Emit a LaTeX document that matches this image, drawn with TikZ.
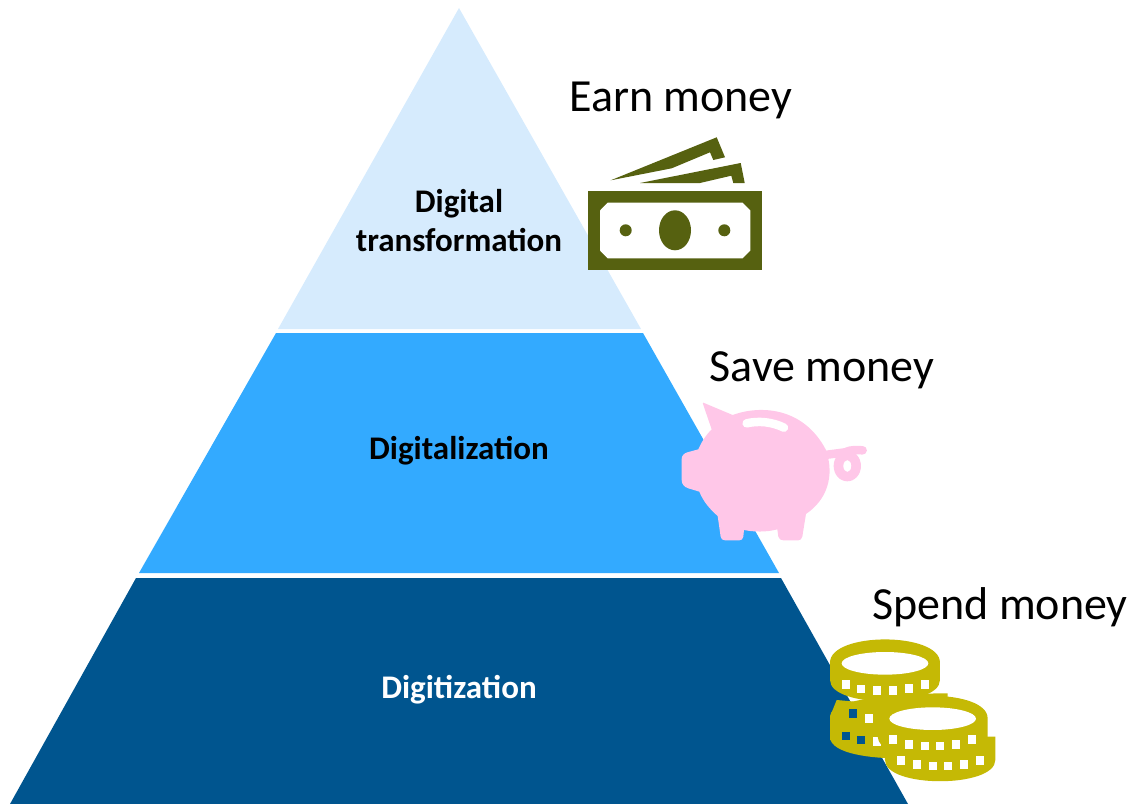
\documentclass[tikz,border=0pt]{standalone}
\usepackage{fontspec}
\setmainfont{Carlito}
\definecolor{toplayer}{HTML}{D6EBFD}
\definecolor{midlayer}{HTML}{33AAFF}
\definecolor{lowlayer}{HTML}{00558F}
\definecolor{billgreen}{HTML}{566110}
\definecolor{pigpink}{HTML}{FFC7E8}
\definecolor{coingold}{HTML}{C5B905}
\tikzset{
  layertext/.style={font=\fontsize{33bp}{39bp}\selectfont\bfseries,align=center,text=black},
  moneytext/.style={font=\fontsize{46bp}{52bp}\selectfont,text=black},
}
\begin{document}
\begin{tikzpicture}[x=1bp,y=-1bp,line join=bevel]
\useasboundingbox (0,0) rectangle (1138,804);
%% pyramid
\fill [toplayer] (459,8) -- (641,329) -- (278,329) -- cycle;
\fill [midlayer] (276,333) -- (643,333) -- (779,573) -- (139,573) -- cycle;
\fill [lowlayer] (136,578) -- (781,578) -- (908,804) -- (10,804) -- cycle;
\node (trans) at (459,221) [layertext] {Digital\\transformation};
\node (digal) at (459,451) [layertext] {Digitalization};
\node (digit) at (459,690) [layertext,text=white] {Digitization};
\node (earn) at (681,100) [moneytext] {Earn money};
\node (save) at (822,370) [moneytext] {Save money};
\node (spend) at (1000,607) [moneytext] {Spend money};
%% bills
\fill [billgreen] (610.7,180.3) -- (716.7,137.3) -- (725,157.3) -- (713.3,160) -- (710,152.3) -- (671.7,168.3) -- cycle;
\fill [billgreen] (640,183) -- (740.7,163) -- (744.7,183) -- (733.3,183) -- (731.3,175.7) -- (700,183) -- cycle;
\fill [billgreen] (588,191) rectangle (762,270);
\fill [white] (607.7,202.7) -- (742.5,202.7) -- (750.3,210.5) -- (750.3,250.5) -- (742.5,258.3) -- (607.7,258.3) -- (600,250.5) -- (600,210.5) -- cycle;
\fill [billgreen] (675,230.3) ellipse [x radius=16,y radius=20];
\fill [billgreen] (625.7,230.3) circle (6);
\fill [billgreen] (724.3,230.3) circle (6);
%% pig
\begin{scope}[shift={(670,390)},x=0.3333bp,y=-0.3333bp]
  \fill [pigpink] (100,38) -- (188,75) .. controls (270,45) and (400,50) .. (468,180)
    .. controls (495,260) and (470,330) .. (408,372) -- (397,440) .. controls (395,448) and (390,451) .. (385,451)
    -- (340,451) .. controls (332,451) and (328,448) .. (325,440) -- (322,418) .. controls (290,427) and (250,426) .. (222,420)
    -- (220,440) .. controls (219,448) and (214,451) .. (208,451) -- (165,451) .. controls (157,451) and (153,447) .. (152,440)
    -- (143,378) .. controls (120,358) and (100,335) .. (88,305) -- (55,295) .. controls (42,291) and (35,282) .. (35,270)
    -- (35,207) .. controls (35,197) and (42,190) .. (52,187) -- (85,178) .. controls (95,155) and (108,135) .. (125,118)
    -- (100,45) .. controls (98,40) and (98,38) .. (100,38) -- cycle;
  \draw [white,line width=8.5bp,line cap=round] (230,100) .. controls (265,92) and (305,95) .. (342,113);
  \draw [pigpink,line width=8.5bp,line cap=round] (465,195) -- (525,187) .. controls (545,178) and (560,180) .. (578,181);
  \fill [pigpink,even odd rule] (532,228) ellipse [x radius=41,y radius=46] (532,228) ellipse [x radius=12,y radius=18];
\end{scope}
%% coins
\begin{scope}[shift={(810,630)},x=0.3333bp,y=-0.3333bp]
  \fill [coingold] (60,260) .. controls (60,190) and (390,190) .. (413,190) -- (413,260)
    .. controls (413,330) and (400,350) .. (60,330) -- cycle;
  \fill [coingold] (60,260) -- (60,320) .. controls (60,375) and (200,385) .. (260,385) -- (300,230) -- (80,210) -- cycle;
  \fill [coingold] (60,98) .. controls (60,5) and (390,5) .. (390,98) -- (390,150)
    .. controls (390,235) and (60,235) .. (60,150) -- cycle;
  \fill [white] (225,100) ellipse [x radius=130,y radius=34];
  \foreach \x/\y in {107/163,153/177,202/181,249/181,297/176,345/163}
    \fill [white] (\x-12,\y-13) rectangle (\x+12,\y+13);
  \foreach \x/\y in {130/250,107/318,153/330}
    \fill [lowlayer] (\x-12,\y-13) rectangle (\x+12,\y+13);
  \foreach \x/\y in {178/265,200/335}
    \fill [white] (\x-12,\y-13) rectangle (\x+12,\y+13);
  \fill [coingold] (225,320) -- (556,320) -- (556,390) .. controls (556,475) and (225,475) .. (225,390) -- cycle;
  \fill [coingold] (203,265) .. controls (203,175) and (533,175) .. (533,265) -- (533,320)
    .. controls (533,400) and (203,400) .. (203,320) -- cycle;
  \fill [white] (368,266) ellipse [x radius=130,y radius=34];
  \foreach \x/\y in {248/328,296/343,345/348,391/348,438/343,486/328,272/392,320/404,368/408,415/408,462/404,510/392}
    \fill [white] (\x-12,\y-13) rectangle (\x+12,\y+13);
\end{scope}
%
\end{tikzpicture}
\end{document}
